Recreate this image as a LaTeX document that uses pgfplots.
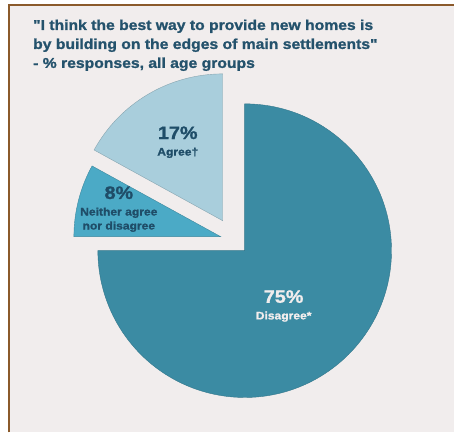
\documentclass[border=0pt]{standalone}
\usepackage{pgfplots}
\pgfplotsset{compat=1.18}
\usepackage{pgfplotstable}
\usepackage{fontspec}
\setmainfont{Liberation Sans}
% heavy, slightly wide face for the Arial-Black look of the original
\newfontfamily\heavy{Liberation Sans}[UprightFont={* Bold}, FakeBold=1.3, FakeStretch=1.1]

\definecolor{bgpanel}{HTML}{F1EDED}
\definecolor{framebrown}{HTML}{8B5A2B}
\definecolor{disagree}{HTML}{3B8BA3}
\definecolor{agree}{HTML}{A9CEDC}
\definecolor{neither}{HTML}{4BAAC6}
\definecolor{titleblue}{HTML}{24526C}
\definecolor{labelblue}{HTML}{1F4D68}

% share of responses, in %; dx/dy = how far each slice is pulled out (bp)
\pgfplotstableread{
slice    value dx  dy
Disagree 75    0   0
Neither  8     -24 14
Agree    17    -22 30
}\piedata

\pgfplotstablegetelem{0}{value}\of\piedata \pgfmathsetmacro\vDis{\pgfplotsretval}
\pgfplotstablegetelem{1}{value}\of\piedata \pgfmathsetmacro\vNei{\pgfplotsretval}
\pgfplotstablegetelem{2}{value}\of\piedata \pgfmathsetmacro\vAgr{\pgfplotsretval}
\pgfplotstablegetelem{1}{dx}\of\piedata \pgfmathsetmacro\nx{245+\pgfplotsretval}
\pgfplotstablegetelem{1}{dy}\of\piedata \pgfmathsetmacro\ny{182+\pgfplotsretval}
\pgfplotstablegetelem{2}{dx}\of\piedata \pgfmathsetmacro\ax{245+\pgfplotsretval}
\pgfplotstablegetelem{2}{dy}\of\piedata \pgfmathsetmacro\ay{182+\pgfplotsretval}

% angles: Disagree runs clockwise from 12 o'clock, the others counter-clockwise
\pgfmathsetmacro\disEnd{90-3.6*\vDis}
\pgfmathsetmacro\agrEnd{90+3.6*\vAgr}
\pgfmathsetmacro\neiEnd{\agrEnd+3.6*\vNei}

\begin{document}
\begin{tikzpicture}
\begin{axis}[
    x=1bp, y=1bp,
    xmin=0, xmax=455, ymin=0, ymax=433,
    disabledatascaling,
    hide axis, clip=false,
]
% panel
\fill[white] (axis cs:0,0) rectangle (axis cs:455,433);
\fill[bgpanel] (axis cs:9,0) rectangle (axis cs:455,428);
\draw[framebrown, line width=1.2bp] (axis cs:9,0) -- (axis cs:9,428) -- (axis cs:455,428);

% slices
\fill[disagree, draw=disagree!85!black, line width=0.4bp]
    (axis cs:245,182) -- ++(90:147bp) arc[start angle=90, end angle=\disEnd, radius=147bp] -- cycle;
\fill[agree, draw=agree!80!black, line width=0.4bp]
    (axis cs:\ax,\ay) -- ++(90:147bp) arc[start angle=90, end angle=\agrEnd, radius=147bp] -- cycle;
\fill[neither, draw=neither!80!black, line width=0.4bp]
    (axis cs:\nx,\ny) -- ++(\agrEnd:147bp) arc[start angle=\agrEnd, end angle=\neiEnd, radius=147bp] -- cycle;

% title
\begin{scope}[every node/.style={anchor=base west, inner sep=0pt, text=titleblue,
    font=\heavy\fontsize{14.3bp}{16bp}\selectfont}]
\node at (axis cs:33,403) {\char34 I think the best way to provide new homes is};
\node at (axis cs:33,384) {by building on the edges of main settlements\char34};
\node at (axis cs:33,365) {- \% responses, all age groups};
\end{scope}

% slice labels
\node[text=labelblue, font=\heavy\fontsize{18bp}{20bp}\selectfont] at (axis cs:178,300) {17\%};
\node[text=labelblue, font=\heavy\fontsize{11bp}{13bp}\selectfont] at (axis cs:178,280) {Agree†};
\node[text=labelblue, font=\heavy\fontsize{18bp}{20bp}\selectfont] at (axis cs:119,240) {8\%};
\node[text=labelblue, font=\heavy\fontsize{11bp}{14bp}\selectfont, align=center] at (axis cs:119,213) {Neither agree\\nor disagree};
\node[text=bgpanel, font=\heavy\fontsize{18bp}{20bp}\selectfont] at (axis cs:284,136) {75\%};
\node[text=bgpanel, font=\heavy\fontsize{11bp}{13bp}\selectfont] at (axis cs:284,116) {Disagree*};
\end{axis}
\end{tikzpicture}
\end{document}
